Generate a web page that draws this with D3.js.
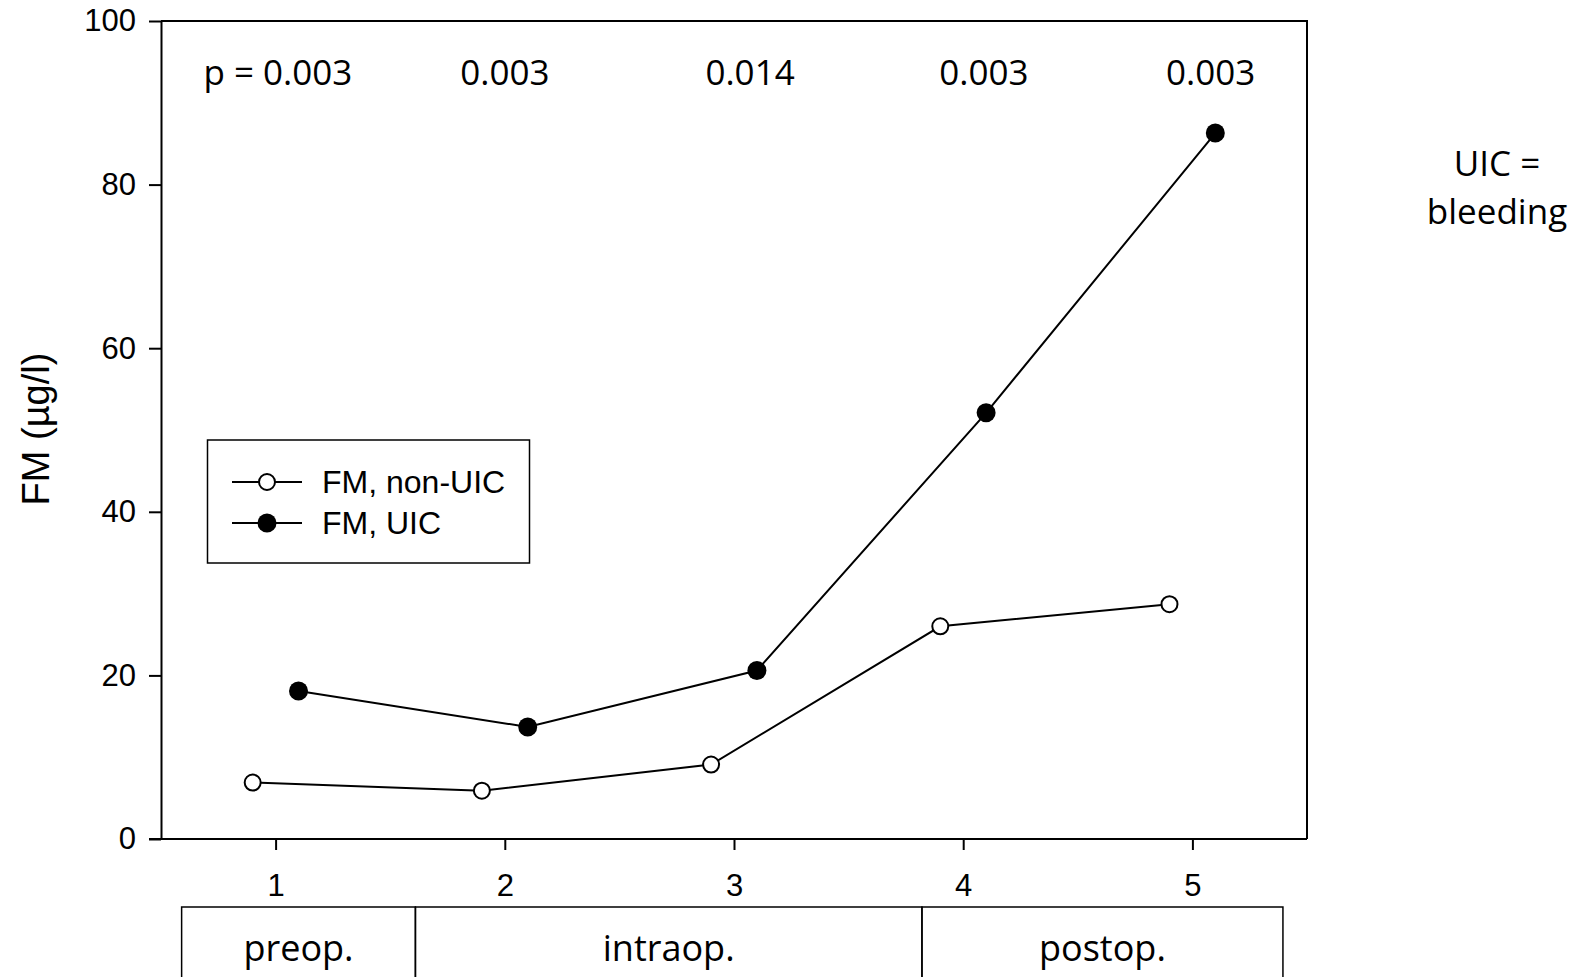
<!DOCTYPE html>
<html>
<head>
<meta charset="utf-8">
<script src="https://cdn.jsdelivr.net/npm/d3@7"></script>
<style>
  html, body { margin: 0; padding: 0; background: #fff; }
  svg { display: block; }
</style>
</head>
<body>
<svg id="chart" width="1579" height="977"></svg>
<script>
// ---- data ----
const timepoints = [1, 2, 3, 4, 5];
const nonUicX = [0.9, 1.9, 2.9, 3.9, 4.9];
const nonUicFM = [6.9, 5.9, 9.1, 26.0, 28.7];
const uicX = [1.1, 2.1, 3.1, 4.1, 5.1];
const uicFM = [18.1, 13.7, 20.6, 52.1, 86.3];
const yTicks = [0, 20, 40, 60, 80, 100];
const pLabels = ["p = 0.003", "0.003", "0.014", "0.003", "0.003"];
const pLabelX = [1.01, 2.0, 3.07, 4.09, 5.08];
const phases = ["preop.", "intraop.", "postop."];
const phaseBounds = [0.59, 1.61, 3.82, 5.395]; // in timepoint units
const seriesNames = ["FM, non-UIC", "FM, UIC"];

// ---- layout ----
const svg = d3.select("#chart");
const mLeft = 161, mRight = 1307, mTop = 21, mBottom = 839;
const x = d3.scaleLinear().domain([0.5, 5.5]).range([mLeft, mRight]);
const y = d3.scaleLinear().domain([0, 100]).range([mBottom, mTop]);
const calibri = "'Open Sans', 'Liberation Sans', sans-serif";
const arial = "'Liberation Sans', Arial, sans-serif";

// frame (top & right)
svg.append("path")
  .attr("d", `M${mLeft},${mTop}H${mRight}V${mBottom}`)
  .attr("fill", "none").attr("stroke", "#000").attr("stroke-width", 2);

// y axis
const yAxis = d3.axisLeft(y).tickValues(yTicks).tickFormat(d3.format("d"))
  .tickSize(12).tickPadding(13).tickSizeOuter(0);
const gy = svg.append("g").attr("transform", `translate(${mLeft},0)`).call(yAxis);
gy.attr("font-family", arial).attr("font-size", 31);
gy.select(".domain").attr("stroke-width", 2);
gy.selectAll(".tick line").attr("stroke-width", 2);
gy.selectAll(".tick text").attr("fill", "#000");

// x axis
const xAxis = d3.axisBottom(x).tickValues(timepoints).tickFormat(d3.format("d"))
  .tickSize(11).tickPadding(24).tickSizeOuter(0);
const gx = svg.append("g").attr("transform", `translate(0,${mBottom})`).call(xAxis);
gx.attr("font-family", arial).attr("font-size", 31);
gx.select(".domain").attr("stroke-width", 2).attr("d", `M${mLeft - 12},0H${mRight}`);
gx.selectAll(".tick line").attr("stroke-width", 2);
gx.selectAll(".tick text").attr("fill", "#000");

// y title
svg.append("text")
  .attr("transform", `translate(${49},${429}) rotate(-90)`)
  .attr("text-anchor", "middle")
  .attr("font-family", arial).attr("font-size", 38)
  .text("FM (µg/l)");

// lines
const line = d3.line().x(d => x(d[0])).y(d => y(d[1]));
const nonUic = nonUicX.map((v, i) => [v, nonUicFM[i]]);
const uic = uicX.map((v, i) => [v, uicFM[i]]);

svg.append("path").datum(nonUic).attr("d", line)
  .attr("fill", "none").attr("stroke", "#000").attr("stroke-width", 2);
svg.append("path").datum(uic).attr("d", line)
  .attr("fill", "none").attr("stroke", "#000").attr("stroke-width", 2);

svg.selectAll("circle.open").data(nonUic).enter().append("circle")
  .attr("class", "open")
  .attr("cx", d => x(d[0])).attr("cy", d => y(d[1])).attr("r", 8)
  .attr("fill", "#fff").attr("stroke", "#000").attr("stroke-width", 2);
svg.selectAll("circle.filled").data(uic).enter().append("circle")
  .attr("class", "filled")
  .attr("cx", d => x(d[0])).attr("cy", d => y(d[1])).attr("r", 9.5)
  .attr("fill", "#000");

// p values
svg.selectAll("text.pval").data(pLabels).enter().append("text")
  .attr("class", "pval")
  .attr("x", (d, i) => x(pLabelX[i])).attr("y", 85)
  .attr("text-anchor", "middle")
  .attr("font-family", calibri).attr("font-size", 35)
  .text(d => d);

// legend
const lg = svg.append("g");
lg.append("rect").attr("x", 207.5).attr("y", 440).attr("width", 322).attr("height", 123)
  .attr("fill", "#fff").attr("stroke", "#000").attr("stroke-width", 1.5);
seriesNames.forEach((name, i) => {
  const ly = 482 + i * 41;
  lg.append("line").attr("x1", 232).attr("x2", 302).attr("y1", ly).attr("y2", ly)
    .attr("stroke", "#000").attr("stroke-width", 2);
  if (i === 0) {
    lg.append("circle").attr("cx", 267).attr("cy", ly).attr("r", 8)
      .attr("fill", "#fff").attr("stroke", "#000").attr("stroke-width", 2);
  } else {
    lg.append("circle").attr("cx", 267).attr("cy", ly).attr("r", 9.5).attr("fill", "#000");
  }
  lg.append("text").attr("x", 322).attr("y", ly + 11)
    .attr("font-family", arial).attr("font-size", 32).text(name);
});

// phase boxes
const bxTop = 907, bxBottom = 1000;
phases.forEach((name, i) => {
  const x0 = x(phaseBounds[i]), x1 = x(phaseBounds[i + 1]);
  svg.append("rect").attr("x", x0).attr("y", bxTop).attr("width", x1 - x0).attr("height", bxBottom - bxTop)
    .attr("fill", "none").attr("stroke", "#000").attr("stroke-width", 1.5);
  svg.append("text").attr("x", (x0 + x1) / 2).attr("y", 961)
    .attr("text-anchor", "middle")
    .attr("font-family", calibri).attr("font-size", 36).text(name);
});

// right annotation
svg.append("text").attr("x", 1497).attr("y", 176).attr("text-anchor", "middle")
  .attr("font-family", calibri).attr("font-size", 35).text("UIC =");
svg.append("text").attr("x", 1497).attr("y", 224).attr("text-anchor", "middle")
  .attr("font-family", calibri).attr("font-size", 35).text("bleeding");
</script>
</body>
</html>
